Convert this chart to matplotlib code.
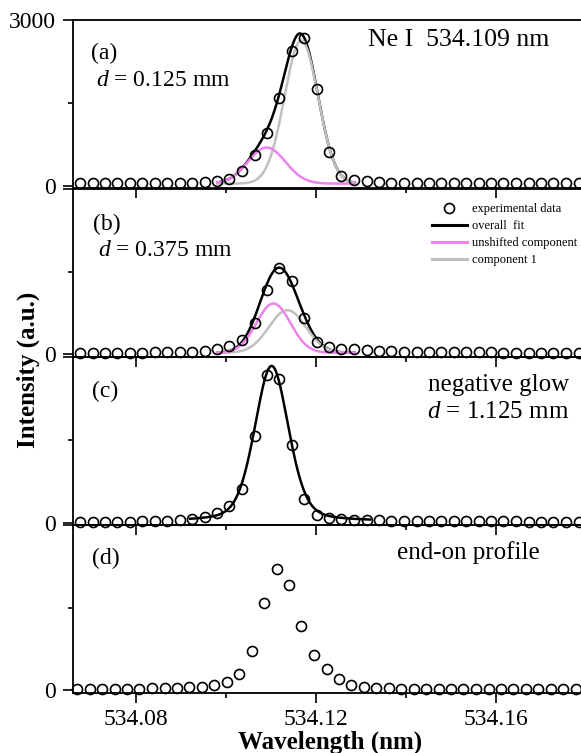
import matplotlib.pyplot as plt
import numpy as np
from matplotlib.lines import Line2D
from matplotlib.ticker import FixedLocator, FixedFormatter

plt.rcParams["font.family"] = ["Liberation Serif", "DejaVu Serif"]
plt.rcParams["mathtext.fontset"] = "custom"
plt.rcParams["mathtext.rm"] = "Liberation Serif"
plt.rcParams["mathtext.it"] = "Liberation Serif:italic"

TEXT_SIZE = 17
LABEL_SIZE = 18
LEGEND_SIZE = 9
MAGENTA = "#EE82EE"
GRAY = "#C0C0C0"

# spectrometer sampling (nm)
wavelength = [
    534.0675, 534.0703, 534.0730, 534.0758, 534.0786, 534.0813, 534.0841,
    534.0869, 534.0897, 534.0924, 534.0952, 534.0980, 534.1007, 534.1035,
    534.1063, 534.1090, 534.1118, 534.1146, 534.1173, 534.1201, 534.1229,
    534.1256, 534.1284, 534.1312, 534.1340, 534.1367, 534.1395, 534.1423,
    534.1450, 534.1478, 534.1506, 534.1533, 534.1561, 534.1589, 534.1616,
    534.1644, 534.1672, 534.1699, 534.1727, 534.1755, 534.1783,
]
wavelength_end_on = [
    534.0669, 534.0697, 534.0724, 534.0752, 534.0780, 534.0807, 534.0835,
    534.0863, 534.0891, 534.0918, 534.0946, 534.0974, 534.1001, 534.1029,
    534.1057, 534.1084, 534.1112, 534.1140, 534.1167, 534.1195, 534.1223,
    534.1250, 534.1278, 534.1306, 534.1334, 534.1361, 534.1389, 534.1417,
    534.1444, 534.1472, 534.1500, 534.1527, 534.1555, 534.1583, 534.1610,
    534.1638, 534.1666, 534.1693, 534.1721, 534.1749, 534.1777,
]

intensity_a = [
    40, 40, 40, 40, 40, 40, 40, 40, 45, 50, 73, 91, 121, 255, 560, 946, 1594,
    2443, 2679, 1745, 600, 175, 105, 80, 65, 55, 50, 45, 45, 40, 40, 40, 40,
    40, 40, 40, 40, 40, 40, 40, 40,
]
intensity_b = [
    30, 30, 30, 30, 30, 30, 35, 35, 40, 45, 55, 97, 158, 267, 570, 1164, 1570,
    1333, 661, 220, 133, 103, 91, 73, 60, 50, 45, 40, 40, 35, 35, 35, 35, 35,
    30, 30, 30, 30, 30, 30, 30,
]
intensity_c = [
    11, 11, 18, 18, 18, 24, 30, 36, 42, 60, 95, 164, 305, 600, 1563, 2684,
    2612, 1411, 430, 140, 80, 60, 50, 45, 40, 36, 36, 30, 30, 30, 30, 24, 24,
    24, 24, 24, 18, 18, 18, 18, 18,
]
intensity_d = [
    18, 18, 18, 18, 30, 30, 36, 42, 48, 60, 66, 91, 157, 303, 703, 1582, 2193,
    1915, 1169, 636, 393, 212, 97, 60, 48, 36, 30, 30, 30, 30, 30, 24, 24, 24,
    24, 24, 18, 18, 18, 18, 18,
]

# fitted profiles: (amplitude, centre nm, hwhm nm, lorentz fraction)
unshifted_a = (655, 534.1090, 0.00489, 0.0)
component1_a = (2600, 534.1167, 0.00440, 0.0)
baseline_a = 35
unshifted_b = (895, 534.1105, 0.00444, 0.0)
component1_b = (775, 534.1136, 0.00483, 0.0)
baseline_b = 25
profile_c = (2822, 534.1101, 0.00445, 0.3)
baseline_c = 20
fit_range_ab = (534.098, 534.1286)
fit_range_c = (534.092, 534.132)

XLIM = (534.0659, 534.17923)
YLIM = (-45, 3000)


def pseudo_voigt(x, params):
    amp, centre, hwhm, eta = params
    u = (x - centre) / hwhm
    gauss = np.exp(-np.log(2) * u ** 2)
    lorentz = 1.0 / (1.0 + u ** 2)
    return amp * (eta * lorentz + (1 - eta) * gauss)


def style_axis(ax, top_label=False, xlabels=False):
    ax.set_xlim(*XLIM)
    ax.set_ylim(*YLIM)
    ax.patch.set_facecolor("none")
    for side in ("left", "bottom", "top", "right"):
        ax.spines[side].set_linewidth(1.3)
    ax.xaxis.set_major_locator(FixedLocator([534.08, 534.12, 534.16]))
    ax.xaxis.set_minor_locator(FixedLocator([534.10, 534.14, 534.18]))
    ax.yaxis.set_major_locator(FixedLocator([0, 3000]))
    ax.yaxis.set_minor_locator(FixedLocator([1500]))
    ax.yaxis.set_major_formatter(FixedFormatter(["0", "3000" if top_label else ""]))
    ax.tick_params(which="both", direction="out", top=False, right=False,
                   labelsize=TEXT_SIZE, width=1.2)
    ax.tick_params(which="major", length=7, pad=5)
    ax.tick_params(which="minor", length=3.5)
    if not xlabels:
        ax.tick_params(axis="x", labelbottom=False)
    else:
        ax.xaxis.set_major_formatter(FixedFormatter(["534.08", "534.12", "534.16"]))


def plot_points(ax, x, y):
    ax.plot(x, y, "o", ms=7.2, mfc="none", mec="black", mew=1.2,
            clip_on=False, zorder=5)


fig = plt.figure(figsize=(5.81, 7.53), dpi=100)
left = 72.7 / 581
width = 1.003 - left
height = 0.2228
bottoms = [0.7503, 0.5263, 0.3028, 0.0801]
axes = [fig.add_axes([left, b, width, height]) for b in bottoms]
ax_a, ax_b, ax_c, ax_d = axes

fit_ab = np.linspace(*fit_range_ab, 400)
fit_c = np.linspace(*fit_range_c, 400)

# (a)
mag_a = pseudo_voigt(fit_ab, unshifted_a)
gray_a = pseudo_voigt(fit_ab, component1_a)
ax_a.plot(fit_ab, mag_a + gray_a + baseline_a, color="black", lw=1.8)
ax_a.plot(fit_ab, gray_a + baseline_a, color=GRAY, lw=1.8)
ax_a.plot(fit_ab, mag_a + baseline_a, color=MAGENTA, lw=1.8)
plot_points(ax_a, wavelength, intensity_a)
ax_a.text(0.035, 0.80, "(a)", transform=ax_a.transAxes, fontsize=TEXT_SIZE, va="center")
ax_a.text(0.046, 0.64, r"$d$ = 0.125 mm", transform=ax_a.transAxes,
          fontsize=TEXT_SIZE, va="center")
ax_a.text(0.579, 0.884, "Ne I  534.109 nm", transform=ax_a.transAxes,
          fontsize=18.5, va="center")

# (b)
mag_b = pseudo_voigt(fit_ab, unshifted_b)
gray_b = pseudo_voigt(fit_ab, component1_b)
ax_b.plot(fit_ab, mag_b + gray_b + baseline_b, color="black", lw=1.8)
ax_b.plot(fit_ab, gray_b + baseline_b, color=GRAY, lw=1.8)
ax_b.plot(fit_ab, mag_b + baseline_b, color=MAGENTA, lw=1.8)
plot_points(ax_b, wavelength, intensity_b)
ax_b.text(0.039, 0.787, "(b)", transform=ax_b.transAxes, fontsize=TEXT_SIZE, va="center")
ax_b.text(0.050, 0.632, r"$d$ = 0.375 mm", transform=ax_b.transAxes,
          fontsize=TEXT_SIZE, va="center")
handles = [
    Line2D([], [], ls="none", marker="o", ms=7.2, mfc="none", mec="black", mew=1.2),
    Line2D([], [], color="black", lw=2.2),
    Line2D([], [], color=MAGENTA, lw=2.2),
    Line2D([], [], color=GRAY, lw=2.2),
]
labels = ["experimental data", "overall  fit", "unshifted component", "component 1"]
ax_b.legend(handles, labels, loc="upper left", bbox_to_anchor=(0.704, 0.915),
            frameon=False, fontsize=LEGEND_SIZE, handlelength=2.8,
            handletextpad=0.45, labelspacing=0.4, borderpad=0, borderaxespad=0)

# (c)
ax_c.plot(fit_c, pseudo_voigt(fit_c, profile_c) + baseline_c, color="black", lw=1.8)
plot_points(ax_c, wavelength, intensity_c)
ax_c.text(0.037, 0.796, "(c)", transform=ax_c.transAxes, fontsize=TEXT_SIZE, va="center")
ax_c.text(0.696, 0.832, "negative glow", transform=ax_c.transAxes,
          fontsize=LABEL_SIZE, va="center")
ax_c.text(0.695, 0.671, r"$d$ = 1.125 mm", transform=ax_c.transAxes,
          fontsize=LABEL_SIZE, va="center")

# (d)
plot_points(ax_d, wavelength_end_on, intensity_d)
ax_d.text(0.037, 0.803, "(d)", transform=ax_d.transAxes, fontsize=TEXT_SIZE, va="center")
ax_d.text(0.635, 0.833, "end-on profile", transform=ax_d.transAxes,
          fontsize=LABEL_SIZE, va="center")

style_axis(ax_a, top_label=True)
style_axis(ax_b)
style_axis(ax_c)
style_axis(ax_d, xlabels=True)

fig.text(28 / 581, 1 - 370 / 753, "Intensity (a.u.)", rotation=90, ha="center",
         va="center", fontsize=LABEL_SIZE, fontweight="bold")
fig.text(330 / 581, 1 - 742 / 753, "Wavelength (nm)", ha="center", va="center",
         fontsize=LABEL_SIZE, fontweight="bold")

fig.savefig("out.png", dpi=100)
